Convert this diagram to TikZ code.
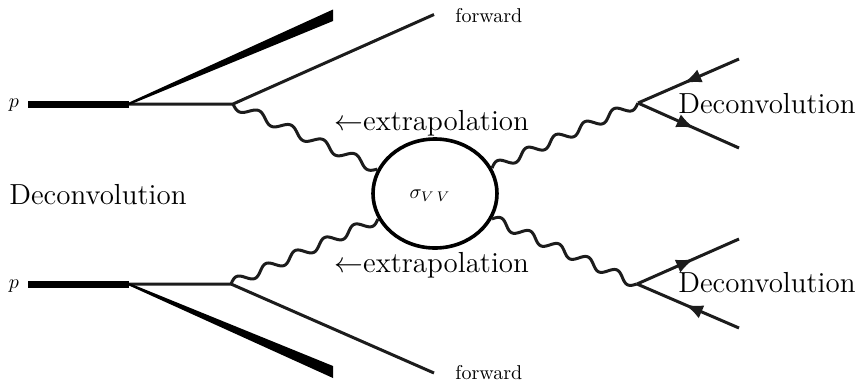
\documentclass[tikz,border=0pt]{standalone}
\usepackage{amsmath}
\usetikzlibrary{arrows.meta,shapes.geometric,decorations.markings,calc}
\definecolor{inkline}{RGB}{28,28,28}
\tikzset{
  thinline/.style={draw=inkline, line width=1.5pt},
  beam/.style={draw=black, line width=3.5pt},
  photon/.style={draw=inkline, line width=1.5pt, line join=round},
  fermion/.style={thinline, postaction={decorate}, decoration={markings,
    mark=at position #1 with {\arrow{Latex[length=9pt,width=7pt]}}}},
  fermionback/.style={thinline, postaction={decorate}, decoration={markings,
    mark=at position #1 with {\arrowreversed{Latex[length=9pt,width=7pt]}}}},
  jet/.style={fill=black, draw=none},
  bigtext/.style={font=\fontsize{14.5}{17}\selectfont, inner sep=0pt},
  smalltext/.style={font=\normalsize, inner sep=0pt}
}
% wavy line from #1 to #2, #3 periods, signed amplitude #4
\newcommand{\wavyline}[4]{%
  \path let \p1=($(#2)-(#1)$), \n1={atan2(\y1,\x1)}, \n2={veclen(\x1,\y1)} in
    \pgfextra{\xdef\wavyangle{\n1}\xdef\wavylen{\n2}};
  \draw[photon, shift={(#1)}, rotate=\wavyangle] plot[domain=0:1, samples=181, variable=\t]
    ({\t*\wavylen},{#4*sin(360*#3*\t)});
}

\begin{document}
\begin{tikzpicture}[x=0.5pt,y=-0.5pt]
        \useasboundingbox (0,0) rectangle (858,381);
        % top half
        \coordinate (pa) at (28,104);
        \coordinate (sa) at (129,104);
        \coordinate (va) at (233,104);
        \coordinate (fa) at (434,14.5);
        \coordinate (ja) at (333,9.5);
        \coordinate (jb) at (333,21);
        \coordinate (jm) at (129,102.5);
        \coordinate (jn) at (129,105);
        % bottom half
        \coordinate (pb) at (28,284);
        \coordinate (sb) at (129,284);
        \coordinate (vb) at (231,284);
        \coordinate (fb) at (434,373);
        \coordinate (jc) at (333,366);
        \coordinate (jd) at (333,378);
        \coordinate (jo) at (129,283);
        \coordinate (jp) at (129,285.5);
        % right vertices
        \coordinate (vc) at (638,103);
        \coordinate (vd) at (637,284);
        \coordinate (ea) at (739,59);
        \coordinate (eb) at (739,148);
        \coordinate (ec) at (739,239);
        \coordinate (ed) at (739,328);

        \node[draw=black, line width=1.8pt, ellipse, inner sep=0pt, minimum width=62pt, minimum height=54.5pt] (blob) at (435,193.5) {};
        \node[smalltext] (sigma) at (430,195.5) {$\sigma_{V\,V}$};

        \node[smalltext] (pt) at (14,105) {$p$};
        \node[smalltext] (pl) at (14,286) {$p$};
        \node[smalltext, anchor=base west] (ft) at (455,22) {forward};
        \node[smalltext, anchor=base west] (fl) at (455,379) {forward};
        \node[bigtext, anchor=base west] (dl) at (9,204.5) {Deconvolution};
        \node[bigtext, anchor=base west] (dt) at (678,113.5) {Deconvolution};
        \node[bigtext, anchor=base west] (db) at (678,292.5) {Deconvolution};
        \node[bigtext, anchor=base west] (xt) at (334,130.5) {$\leftarrow$extrapolation};
        \node[bigtext, anchor=base west] (xb) at (334,272.5) {$\leftarrow$extrapolation};

        \draw[beam] (pa) -- (sa);
        \draw[beam] (pb) -- (sb);
        \draw[thinline] (sa) -- (va) -- (fa);
        \draw[thinline] (sb) -- (vb) -- (fb);
        \fill[jet] (jm) -- (ja) -- (jb) -- (jn) -- cycle;
        \fill[jet] (jo) -- (jc) -- (jd) -- (jp) -- cycle;

        \wavyline{va}{blob.157}{4.5}{-2.3pt}
        \wavyline{blob.24}{vc}{5}{2.3pt}
        \wavyline{vb}{blob.204}{5}{2.3pt}
        \wavyline{blob.336}{vd}{5}{2.3pt}

        \draw[fermionback=0.45] (vc) -- (ea);
        \draw[fermion=0.56] (vc) -- (eb);
        \draw[fermion=0.56] (vd) -- (ec);
        \draw[fermionback=0.47] (vd) -- (ed);
      \end{tikzpicture}
\end{document}
